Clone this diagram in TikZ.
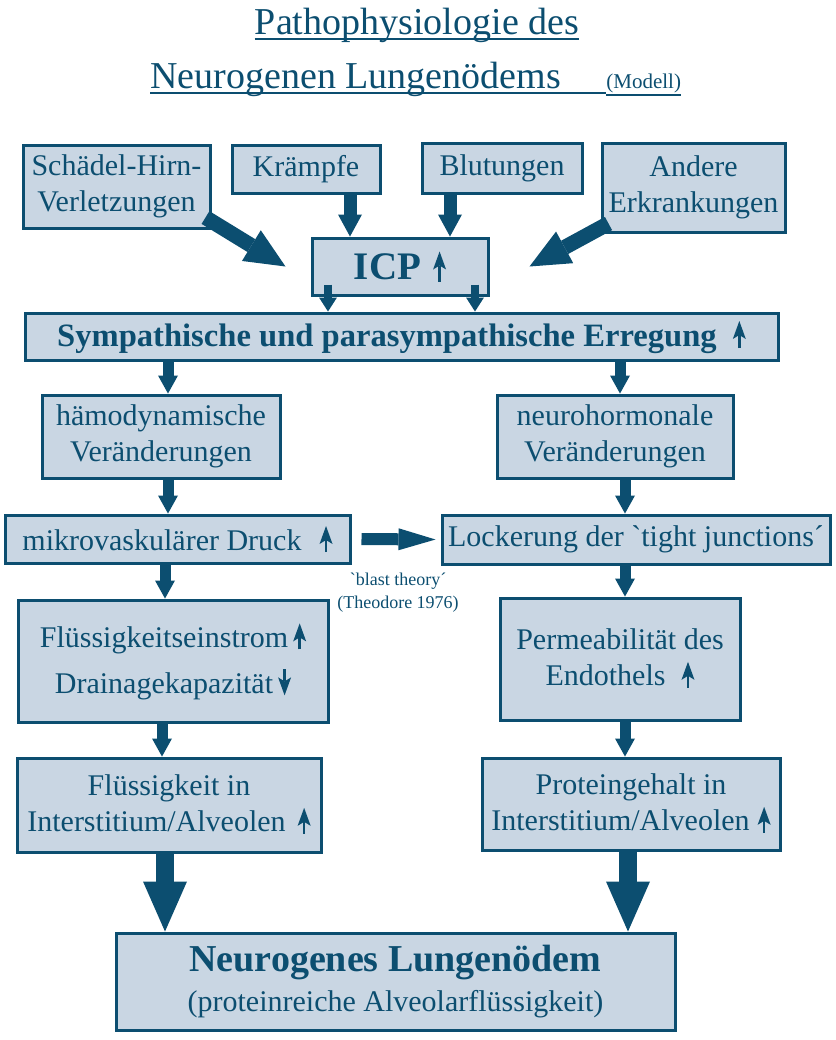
\documentclass[tikz,border=0pt]{standalone}
\usepackage{fontspec}
\setmainfont{Liberation Serif}
\usetikzlibrary{positioning,arrows.meta}

\definecolor{dblue}{HTML}{0C4E70}
\definecolor{lblue}{HTML}{C9D6E3}

% small arrows inside the texts
\newcommand{\uparr}[1][12pt]{\tikz[baseline=0pt]\draw[color=dblue,line width=1.2pt,-{Stealth[width=6.5pt,length=9pt,inset=2pt,line width=0pt]}] (0,-1pt) -- (0,#1);}
\newcommand{\downarr}[1][12pt]{\tikz[baseline=0pt]\draw[color=dblue,line width=1.2pt,-{Stealth[width=6.5pt,length=9pt,inset=2pt,line width=0pt]}] (0,#1) -- (0,-1pt);}

\begin{document}
\begin{tikzpicture}[x=0.5pt, y=-0.5pt, align=center, font=\fontsize{15}{18}\selectfont,
    every node/.style={text=dblue},
    box/.style={draw=dblue, fill=lblue, line width=1.5pt, shape=rectangle, inner sep=2pt},
    title/.style={font=\fontsize{19}{22}\selectfont, inner sep=0pt},
    uline/.style={draw=dblue, line width=1pt},
    bigarr/.style={color=dblue, line width=9pt, -{Triangle[width=22pt,length=25pt,line width=0pt]}},
    diagarr/.style={color=dblue, line width=7.5pt, -{Triangle[width=18pt,length=20pt,line width=0pt]}},
    medarr/.style={color=dblue, line width=6.5pt, -{Triangle[width=12pt,length=11pt,line width=0pt]}},
    levelarr/.style={color=dblue, line width=5.5pt, -{Triangle[width=10pt,length=9pt,line width=0pt]}},
    thinarr/.style={color=dblue, line width=4pt, -{Triangle[width=9pt,length=7pt,line width=0pt]}},
    sidearr/.style={color=dblue, line width=6pt, -{Triangle[width=11pt,length=18.5pt,line width=0pt]}}]
    \useasboundingbox (0,0) rectangle (836,1040);

    % title
    \node[title, anchor=base] (tline1) at (417,34) {Pathophysiologie des};
    \node[title, anchor=base west] (tline2) at (150,88) {Neurogenen Lungenödems};
    \node[title, anchor=base west, font=\fontsize{10.5}{12}\selectfont] (modell) at (606,88) {(Modell)};
    \draw[uline] ([yshift=-2.5pt]tline1.base west) -- ([yshift=-2.5pt]tline1.base east);
    \draw[uline] ([yshift=-2.5pt]tline2.base west) -- ([yshift=-2.5pt]modell.base west);
    \draw[uline] ([yshift=-3.5pt]modell.base west) -- ([yshift=-3.5pt]modell.base east);

    % causes
    \node[box, minimum width=93.5pt, minimum height=41.5pt] (sht) at (116.5,186.5) {Schädel-Hirn-\\Verletzungen};
    \node[box, minimum width=74pt, minimum height=24pt] (kraempfe) at (306,169) {Krämpfe};
    \node[box, minimum width=80pt, minimum height=25pt] (blutungen) at (502,168) {Blutungen};
    \node[box, minimum width=91.5pt, minimum height=44.5pt] (andere) at (693.5,187.5) {Andere\\Erkrankungen};
    \node[box, minimum width=88pt, minimum height=28.5pt] (icp) at (400,266.5) {\fontsize{19.5}{22}\selectfont\bfseries ICP\hspace{6pt}\uparr[14pt]};
    \node[box, minimum width=376.5pt, minimum height=23.5pt] (sym) at (401.5,336.5) {\fontsize{16.3}{19}\selectfont\bfseries Sympathische und parasympathische Erregung\hspace{8pt}\uparr[12.5pt]};

    % two paths
    \node[box, minimum width=119pt, minimum height=41.5pt] (haemo) at (161,436.5) {hämodynamische\\Veränderungen};
    \node[box, minimum width=118pt, minimum height=41.5pt] (neuro) at (615,436.5) {neurohormonale\\Veränderungen};
    \node[box, minimum width=172.5pt, minimum height=24pt] (mikro) at (177.5,539) {mikrovaskulärer Druck\hspace{9pt}\uparr};
    \node[box, minimum width=194pt, minimum height=24.5pt] (locker) at (636,539.5) {Lockerung der \textasciigrave tight junctions´};
    \node[font=\fontsize{9}{11.5}\selectfont] (blast) at (398,593) {\textasciigrave blast theory´\\(Theodore 1976)};
    \node[box, minimum width=155pt, minimum height=61pt] (einstrom) at (173,661) {Flüssigkeitseinstrom\,\uparr\\[5pt]Drainagekapazität\,\downarr};
    \node[box, minimum width=120pt, minimum height=61pt] (perm) at (620,659) {Permeabilität des\\Endothels\hspace{8pt}\uparr};
    \node[box, minimum width=152pt, minimum height=47pt] (fluessig) at (169,805) {Flüssigkeit in\\Interstitium/Alveolen\hspace{6pt}\uparr};
    \node[box, minimum width=149pt, minimum height=46pt] (protein) at (631,804) {Proteingehalt in\\Interstitium/Alveolen\hspace{4pt}\uparr};
    \node[box, minimum width=279.5pt, minimum height=48.5pt] (oedem) at (395.5,981.5) {{\fontsize{19}{22}\selectfont\bfseries Neurogenes Lungenödem}\\[2pt](proteinreiche Alveolarflüssigkeit)};

    \draw[diagarr] ([xshift=-3pt,yshift=6pt]sht.south east) -- ([xshift=-12.5pt]icp.west);
    \draw[diagarr] ([xshift=4pt,yshift=5pt]andere.south west) -- ([xshift=20pt]icp.east);
    \draw[medarr] ([xshift=22pt]kraempfe.south) -- ([xshift=-25pt]icp.north);
    \draw[medarr] ([xshift=-26pt]blutungen.south) -- ([xshift=25pt]icp.north);
    \draw[thinarr] ([xshift=-36pt,yshift=6pt]icp.south) -- ([xshift=-36.75pt]sym.north);
    \draw[thinarr] ([xshift=37.5pt,yshift=6pt]icp.south) -- ([xshift=36.75pt]sym.north);
    \draw[levelarr] ([xshift=-116.75pt]sym.south) -- ([xshift=3.5pt]haemo.north);
    \draw[levelarr] ([xshift=109.25pt]sym.south) -- ([xshift=2.5pt]neuro.north);
    \draw[levelarr] ([xshift=3.5pt]haemo.south) -- ([xshift=-4.75pt]mikro.north);
    \draw[levelarr] ([xshift=5pt]neuro.south) -- ([xshift=-5.5pt]locker.north);
    \draw[sidearr] ([xshift=5pt]mikro.east) -- ([xshift=-2.5pt]locker.west);
    \draw[levelarr] ([xshift=-6.25pt]mikro.south) -- ([xshift=-4pt]einstrom.north);
    \draw[levelarr] ([xshift=-5.5pt]locker.south) -- ([xshift=2.5pt]perm.north);
    \draw[levelarr] ([xshift=-5.5pt]einstrom.south) -- ([xshift=-3.5pt]fluessig.north);
    \draw[levelarr] ([xshift=2.5pt]perm.south) -- ([xshift=-3pt]protein.north);
    \draw[bigarr] ([xshift=-2pt]fluessig.south) -- ([xshift=-115.25pt]oedem.north);
    \draw[bigarr] ([xshift=-1.5pt]protein.south) -- ([xshift=116.25pt]oedem.north);
\end{tikzpicture}
\end{document}
